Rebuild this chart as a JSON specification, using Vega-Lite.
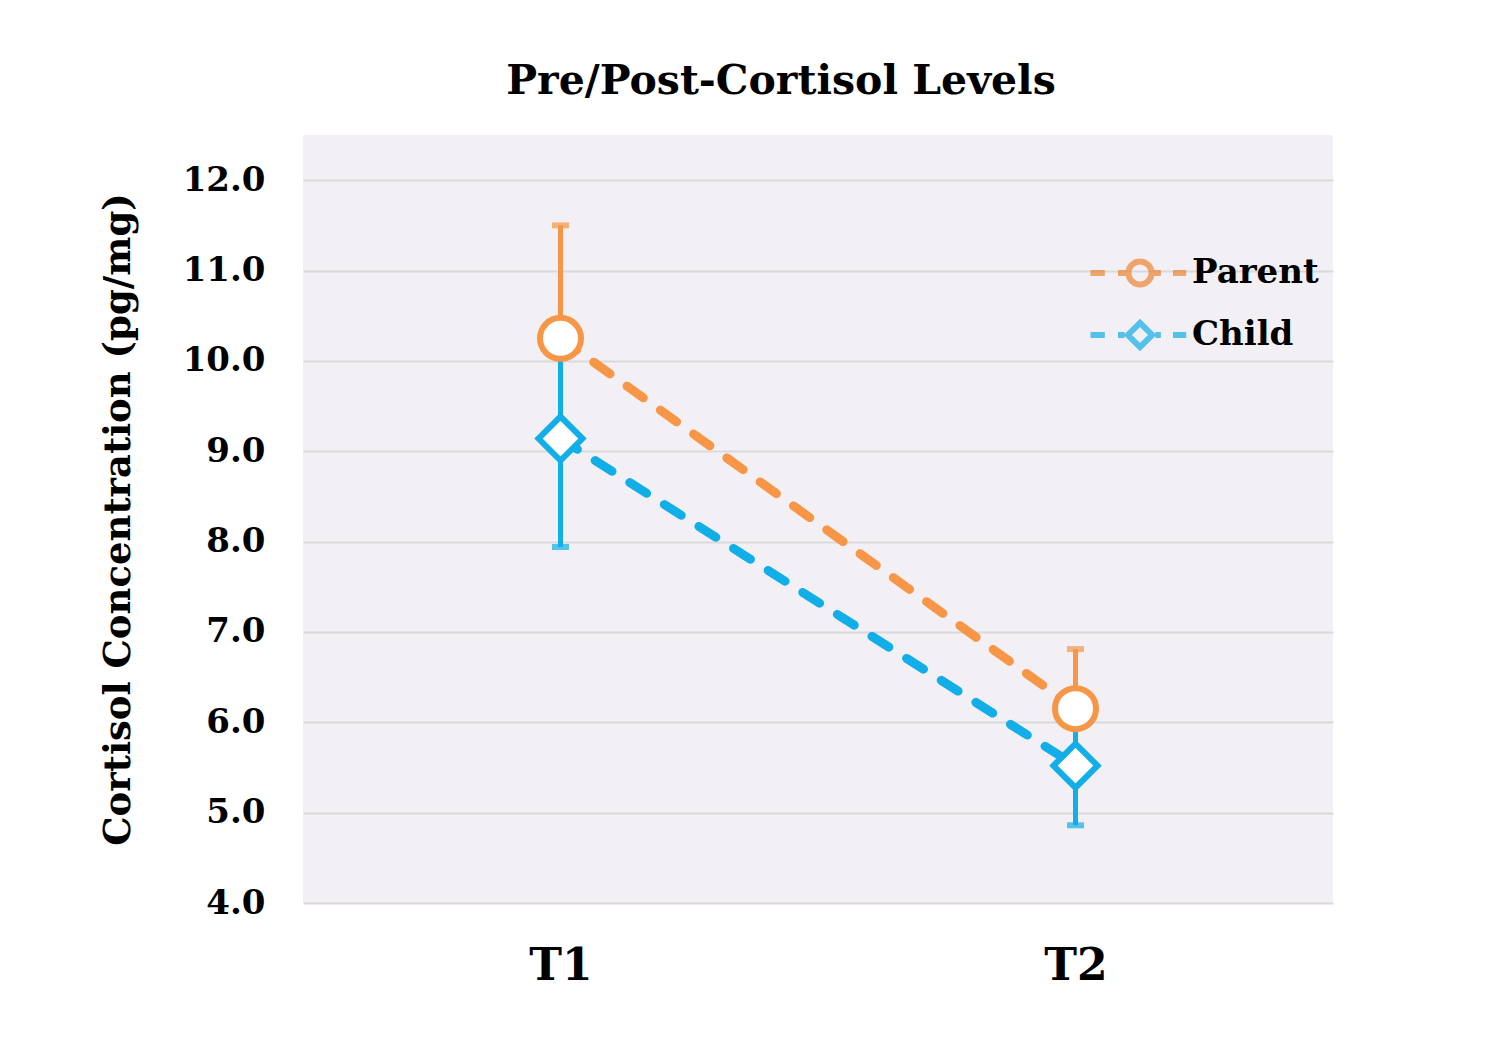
{
  "$schema": "https://vega.github.io/schema/vega-lite/v6.json",
  "width": 1030,
  "height": 768,
  "autosize": {"type": "none"},
  "padding": {"left": 303, "top": 135, "right": 152, "bottom": 139},
  "background": "white",
  "title": {
    "text": "Pre/Post-Cortisol Levels",
    "font": "DejaVu Serif",
    "fontSize": 41,
    "fontWeight": "bold",
    "color": "black",
    "anchor": "middle",
    "baseline": "alphabetic",
    "offset": 0,
    "dx": -37
  },
  "config": {
    "view": {"fill": "#F2F0F4", "stroke": null},
    "axis": {
      "labelFont": "DejaVu Serif",
      "labelFontWeight": "bold",
      "labelColor": "black",
      "titleFont": "DejaVu Serif",
      "titleFontWeight": "bold",
      "titleColor": "black",
      "domain": false,
      "ticks": false,
      "tickSize": 0
    },
    "legend": {
      "labelFont": "DejaVu Serif",
      "labelFontWeight": "bold",
      "labelColor": "black"
    }
  },
  "data": {
    "values": [
      {"time": "T1", "series": "Parent", "mean": 10.25, "lo": 9.0, "hi": 11.5},
      {"time": "T2", "series": "Parent", "mean": 6.15, "lo": 5.49, "hi": 6.81},
      {"time": "T1", "series": "Child", "mean": 9.14, "lo": 7.94, "hi": 10.34},
      {"time": "T2", "series": "Child", "mean": 5.52, "lo": 4.86, "hi": 6.18}
    ]
  },
  "encoding": {
    "x": {
      "field": "time",
      "type": "nominal",
      "scale": {"type": "point", "padding": 0.5},
      "axis": {"title": null, "labelAngle": 0, "labelFontSize": 44, "labelPadding": 41, "grid": false}
    }
  },
  "layer": [
    {
      "transform": [{"filter": "datum.series === 'Parent'"}],
      "mark": {"type": "rule", "color": "#F79646", "strokeWidth": 5},
      "encoding": {
        "y": {
          "field": "lo",
          "type": "quantitative",
          "scale": {"domain": [4, 12.5], "nice": false, "zero": false},
          "axis": {
            "values": [4, 5, 6, 7, 8, 9, 10, 11, 12],
            "format": ".1f",
            "labelFontSize": 34,
            "labelPadding": 38,
            "grid": true,
            "gridColor": "#D9D9D9",
            "gridWidth": 2,
            "title": "Cortisol Concentration (pg/mg)",
            "titleFontSize": 37,
            "titleBaseline": "alphabetic",
            "titleX": -174,
            "titleAngle": -90
          }
        },
        "y2": {"field": "hi"}
      }
    },
    {
      "transform": [{"filter": "datum.series === 'Parent'"}],
      "mark": {"type": "tick", "color": "#F79646", "size": 17, "thickness": 6, "orient": "horizontal"},
      "encoding": {"y": {"field": "hi", "type": "quantitative"}}
    },
    {
      "transform": [{"filter": "datum.series === 'Parent'"}],
      "mark": {"type": "tick", "color": "#F79646", "size": 17, "thickness": 6, "orient": "horizontal"},
      "encoding": {"y": {"field": "lo", "type": "quantitative"}}
    },
    {
      "transform": [{"filter": "datum.series === 'Child'"}],
      "mark": {"type": "rule", "color": "#12AEE8", "strokeWidth": 5},
      "encoding": {
        "y": {"field": "lo", "type": "quantitative"},
        "y2": {"field": "hi"}
      }
    },
    {
      "transform": [{"filter": "datum.series === 'Child'"}],
      "mark": {"type": "tick", "color": "#12AEE8", "size": 17, "thickness": 6, "orient": "horizontal"},
      "encoding": {"y": {"field": "hi", "type": "quantitative"}}
    },
    {
      "transform": [{"filter": "datum.series === 'Child'"}],
      "mark": {"type": "tick", "color": "#12AEE8", "size": 17, "thickness": 6, "orient": "horizontal"},
      "encoding": {"y": {"field": "lo", "type": "quantitative"}}
    },
    {
      "transform": [{"filter": "datum.series === 'Parent'"}],
      "mark": {"type": "line", "color": "#F79646", "strokeWidth": 9, "strokeDash": [20, 21], "strokeCap": "round"},
      "encoding": {"y": {"field": "mean", "type": "quantitative"}}
    },
    {
      "transform": [{"filter": "datum.series === 'Child'"}],
      "mark": {"type": "line", "color": "#12AEE8", "strokeWidth": 9, "strokeDash": [20, 21], "strokeCap": "round"},
      "encoding": {"y": {"field": "mean", "type": "quantitative"}}
    },
    {
      "transform": [{"filter": "datum.series === 'Child'"}],
      "mark": {"type": "point", "shape": "diamond", "size": 1936, "filled": true, "fill": "white", "stroke": "#12AEE8", "strokeWidth": 6, "opacity": 1},
      "encoding": {"y": {"field": "mean", "type": "quantitative"}}
    },
    {
      "transform": [{"filter": "datum.series === 'Parent'"}],
      "mark": {"type": "point", "shape": "circle", "size": 1681, "filled": true, "fill": "white", "stroke": "#F79646", "strokeWidth": 6, "opacity": 1},
      "encoding": {"y": {"field": "mean", "type": "quantitative"}}
    },
    {
      "transform": [{"filter": "datum.series === 'legend-only'"}],
      "mark": {"type": "point", "filled": false, "strokeWidth": 6},
      "encoding": {
        "y": {"field": "mean", "type": "quantitative"},
        "stroke": {
          "field": "series",
          "type": "nominal",
          "scale": {"domain": ["Parent", "Child"], "range": ["#EE8433", "#12AEE8"]},
          "legend": {
            "title": null,
            "orient": "none",
            "legendX": 820,
            "legendY": 121,
            "padding": 0,
            "labelFontSize": 34,
            "labelOffset": 35,
            "rowPadding": 13,
            "symbolSize": 484,
            "symbolStrokeWidth": 6,
            "labelLimit": 400,
            "encode": {
              "symbols": {"update": {"fill": {"value": "white"}, "strokeCap": {"value": "round"}, "opacity": {"value": 1}}}
            }
          }
        },
        "shape": {
          "field": "series",
          "type": "nominal",
          "scale": {
            "domain": ["Parent", "Child"],
            "range": [
              "M-4.5,0L-3.2,0M-2.0,0L-1.3,0M1.3,0L1.9,0M3.0,0L4.2,0M1.05,0A1.05,1.05,0,1,1,-1.05,0A1.05,1.05,0,1,1,1.05,0Z",
              "M-4.5,0L-3.2,0M-2.0,0L-1.4,0M1.4,0L1.9,0M3.0,0L4.2,0M0,-1.1L1.1,0L0,1.1L-1.1,0Z"
            ]
          },
          "legend": {
            "title": null,
            "orient": "none",
            "legendX": 820,
            "legendY": 121,
            "padding": 0,
            "labelFontSize": 34,
            "labelOffset": 35,
            "rowPadding": 13,
            "symbolSize": 484,
            "symbolStrokeWidth": 6,
            "labelLimit": 400,
            "encode": {
              "symbols": {"update": {"fill": {"value": "white"}, "strokeCap": {"value": "round"}, "opacity": {"value": 1}}}
            }
          }
        }
      }
    }
  ]
}
